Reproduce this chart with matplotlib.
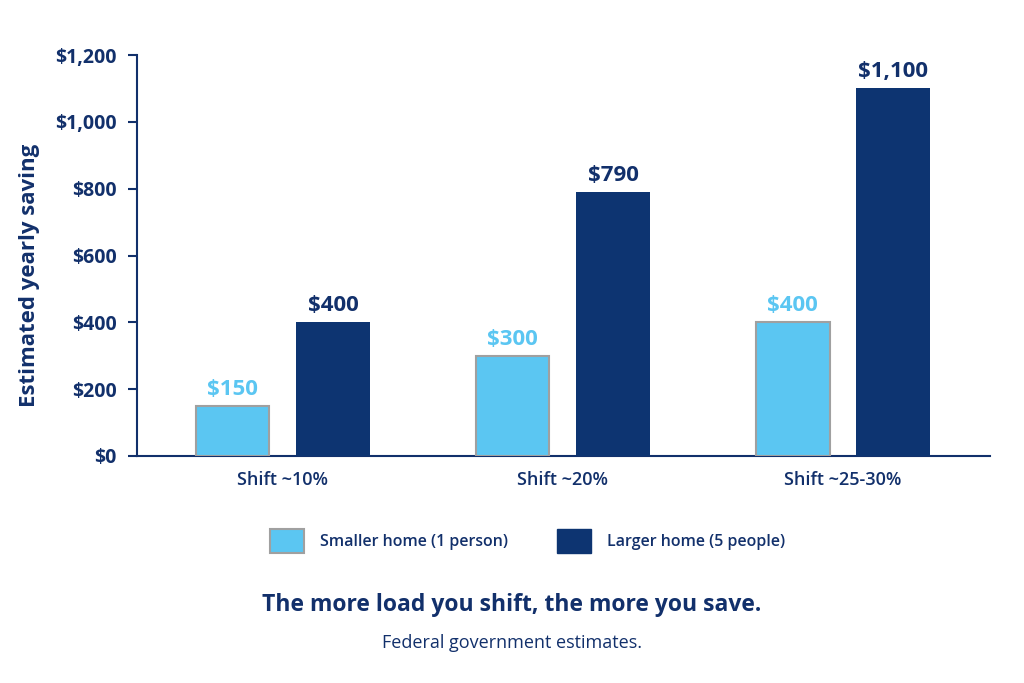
import matplotlib
matplotlib.use("Agg")
import matplotlib.pyplot as plt
import numpy as np
from matplotlib.patches import Rectangle

categories = ["Shift ~10%", "Shift ~20%", "Shift ~25-30%"]
smaller_home = [150, 300, 400]
larger_home = [400, 790, 1100]
series_names = ["Smaller home (1 person)", "Larger home (5 people)"]
yticks = [0, 200, 400, 600, 800, 1000, 1200]
ytick_labels = ["$0", "$200", "$400", "$600", "$800", "$1,000", "$1,200"]

NAVY = "#12306b"
LIGHT = "#5bc6f2"
DARK = "#0d3471"
FONT = "Open Sans"

plt.rcParams["font.family"] = [FONT, "DejaVu Sans"]

fig = plt.figure(figsize=(10.24, 6.83), dpi=100)
ax = fig.add_axes([137 / 1024, 1 - 456 / 683, 853 / 1024, 401 / 683])

x = np.arange(len(categories))
w = 0.264
off = 0.18
ax.bar(x - off, smaller_home, w, color=LIGHT, edgecolor="#a0a0a0", linewidth=1.5, zorder=3)
ax.bar(x + off, larger_home, w, color=DARK, edgecolor=DARK, linewidth=0, zorder=3)

for xi, v in zip(x, smaller_home):
    ax.text(xi - off, v + 18, f"${v:,}", ha="center", va="bottom", color=LIGHT,
            fontsize=16, fontweight="bold")
for xi, v in zip(x, larger_home):
    ax.text(xi + off, v + 18, f"${v:,}", ha="center", va="bottom", color=NAVY,
            fontsize=16, fontweight="bold")

ax.set_xlim(-0.521, 2.525)
ax.set_ylim(0, 1200)
ax.set_yticks(yticks)
ax.set_yticklabels(ytick_labels)
ax.set_xticks(x)
ax.set_xticklabels(categories)
for sp in ["top", "right"]:
    ax.spines[sp].set_visible(False)
for sp in ["left", "bottom"]:
    ax.spines[sp].set_color(NAVY)
    ax.spines[sp].set_linewidth(1.5)
ax.tick_params(axis="y", colors=NAVY, length=6.5, width=1.5, labelsize=14, pad=8)
ax.tick_params(axis="x", colors=NAVY, length=0, labelsize=13, pad=11)
for lab in ax.get_yticklabels():
    lab.set_fontweight("bold")
for lab in ax.get_xticklabels():
    lab.set_fontweight("semibold")
ax.set_ylabel("Estimated yearly saving", color=NAVY, fontsize=16, fontweight="bold")
ax.yaxis.set_label_coords(40 / 1024, 1 - 275 / 683, transform=fig.transFigure)

# legend
handles = [Rectangle((0, 0), 1, 1, facecolor=LIGHT, edgecolor="#a0a0a0", linewidth=1.5),
           Rectangle((0, 0), 1, 1, facecolor=DARK, edgecolor=DARK)]
leg = fig.legend(handles, series_names, loc="center", bbox_to_anchor=(0.515, 0.208),
                 ncol=2, frameon=False, fontsize=11.5, handlelength=2.1, handleheight=1.9,
                 columnspacing=3.1, handletextpad=1.0)
for t in leg.get_texts():
    t.set_color(NAVY)
    t.set_fontweight("semibold")

fig.text(0.5, 0.114, "The more load you shift, the more you save.", ha="center", va="center",
         color=NAVY, fontsize=16.5, fontweight="bold")
fig.text(0.5, 0.058, "Federal government estimates.", ha="center", va="center",
         color=NAVY, fontsize=13)

fig.savefig("out.png", dpi=100, facecolor="white")
